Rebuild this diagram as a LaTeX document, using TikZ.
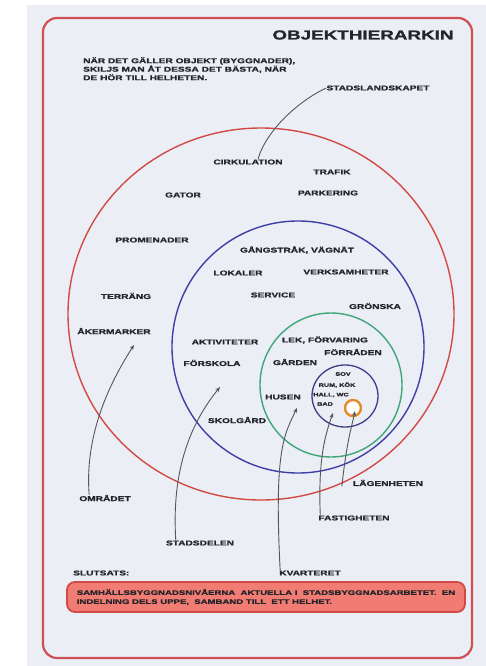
\documentclass[tikz,border=0pt]{standalone}
\usepackage{fontspec}
\usetikzlibrary{arrows.meta}
\newfontfamily\handfont{Liberation Sans}[FakeStretch=1.45, FakeBold=1.2]
\definecolor{paper}{HTML}{EBEEF5}
\definecolor{framered}{HTML}{CF4F55}
\definecolor{ringred}{HTML}{D24A45}
\definecolor{ringblue}{HTML}{3E40A6}
\definecolor{ringgreen}{HTML}{3FA67A}
\definecolor{ringnavy}{HTML}{3C3E86}
\definecolor{ringorange}{HTML}{E38A2A}
\definecolor{ink}{HTML}{24242A}
\definecolor{pen}{HTML}{55555C}
\definecolor{notefill}{HTML}{F07C74}
\begin{document}
\begin{tikzpicture}[x=1pt,y=-1pt,
    lbl/.style={font=\handfont\bfseries\fontsize{7}{8.5}\selectfont, text=ink, inner sep=0pt},
    tiny/.style={font=\handfont\bfseries\fontsize{5}{6}\selectfont, text=ink, inner sep=0pt},
    pointer/.style={draw=pen, line width=0.9pt, -{Stealth[length=5pt,width=4pt]}}]
    % paper and frame
    \fill[white] (0,0) rectangle (486,666);
    \useasboundingbox (0,0) rectangle (486,666);
    \fill[paper] (27,5) rectangle (486,666);
    \draw[framered, line width=2.2pt, rounded corners=14pt] (43,18) rectangle (472,658);
    \node[font=\handfont\bfseries\fontsize{13}{14}\selectfont, text=ink, inner sep=0pt] (rubrik) at (363,35) {OBJEKTHIERARKIN};
    \node[lbl, anchor=north west, align=left] (intro) at (83,57) {N\"AR DET G\"ALLER OBJEKT (BYGGNADER),\\SKILJS MAN \AA T DESSA DET B\"ASTA, N\"AR\\DE H\"OR TILL HELHETEN.};
    \node[lbl] (stadsl) at (378,88) {STADSLANDSKAPET};

    % nested circles
    \draw[ringred, line width=1.4pt] (261,314) ellipse [x radius=193pt, y radius=186pt];
    \draw[ringblue, line width=1.4pt] (298,347) circle [radius=126pt];
    \draw[ringgreen, line width=1.4pt] (331,385) ellipse [x radius=71pt, y radius=72pt];
    \draw[ringnavy, line width=1.3pt] (345,396) ellipse [x radius=33pt, y radius=31pt];
    \draw[ringorange, line width=2.4pt, fill=white] (353,408) circle [radius=8pt];

    % red ring
    \node[lbl] (cirk) at (248,162) {CIRKULATION};
    \node[lbl] (trafik) at (332,172) {TRAFIK};
    \node[lbl] (gator) at (183,195) {GATOR};
    \node[lbl] (park) at (328,193) {PARKERING};
    \node[lbl] (prom) at (152,240) {PROMENADER};
    \node[lbl] (terr) at (126,296) {TERR\"ANG};
    \node[lbl] (aker) at (114,331) {\AA KERMARKER};

    % blue ring
    \node[lbl] (gang) at (297,250) {G\AA NGSTR\AA K, V\"AGN\"AT};
    \node[lbl] (lokal) at (238,273) {LOKALER};
    \node[lbl] (verks) at (346,272) {VERKSAMHETER};
    \node[lbl] (serv) at (273,295) {SERVICE};
    \node[lbl] (gron) at (375,306) {GR\"ONSKA};
    \node[lbl] (akt) at (225,342) {AKTIVITETER};
    \node[lbl] (forsk) at (212,363) {F\"ORSKOLA};
    \node[lbl] (skol) at (237,420) {SKOLG\AA RD};

    % green ring
    \node[lbl] (lek) at (325,340) {LEK, F\"ORVARING};
    \node[lbl] (forr) at (353,352) {F\"ORR\AA DEN};
    \node[lbl] (gard) at (295,362) {G\AA RDEN};
    \node[lbl] (husen) at (283,397) {HUSEN};

    % navy ring
    \node[tiny] (sov) at (343,374) {SOV};
    \node[tiny] (rum) at (337,385) {RUM, K\"OK};
    \node[tiny] (hall) at (331,395) {HALL, WC};
    \node[tiny] (bad) at (325,404) {BAD};

    % levels
    \node[lbl] (omr) at (105,498) {OMR\AA DET};
    \node[lbl] (stad) at (200,543) {STADSDELEN};
    \node[lbl] (kv) at (310,573) {KVARTERET};
    \node[lbl] (fast) at (354,518) {FASTIGHETEN};
    \node[lbl] (lgh) at (388,483) {L\"AGENHETEN};
    \coordinate (omrtip) at (134,345);
    \coordinate (stadtip) at (220,387);
    \coordinate (kvtip) at (297,408);
    \coordinate (fasttip) at (333,413);
    \coordinate (lghtip) at (355,411);

    \draw[pen, line width=0.9pt] (stadsl.west) .. controls (300,100) and (266,130) .. ([xshift=10pt]cirk.north);
    \draw[pointer] ([xshift=10pt]omr.north west) .. controls (85,440) and (105,390) .. (omrtip);
    \draw[pointer] ([xshift=10pt]stad.north west) .. controls (172,480) and (185,430) .. (stadtip);
    \draw[pointer] ([xshift=1pt]kv.north west) .. controls (274,450) and (284,435) .. (kvtip);
    \draw[pointer] ([xshift=2pt]fast.north west) .. controls (318,460) and (325,435) .. (fasttip);
    \draw[pointer] ([xshift=-11pt]lgh.south west) .. controls (347,440) and (351,430) .. (lghtip);

    % note
    \node[lbl, anchor=west] (slutsats) at (73,573) {SLUTSATS:};
    \node[lbl, font=\handfont\bfseries\fontsize{6.6}{9}\selectfont, draw=ringred, line width=1.8pt,
          fill=notefill, rounded corners=8pt, minimum width=398pt, minimum height=30pt,
          align=left] (note) at (266,597)
          {SAMH\"ALLSBYGGNADSNIV\AA ERNA \ AKTUELLA I \ STADSBYGGNADSARBETET. \ EN\\
           INDELNING DELS UPPE, \ SAMBAND TILL \ ETT HELHET.};
\end{tikzpicture}
\end{document}
